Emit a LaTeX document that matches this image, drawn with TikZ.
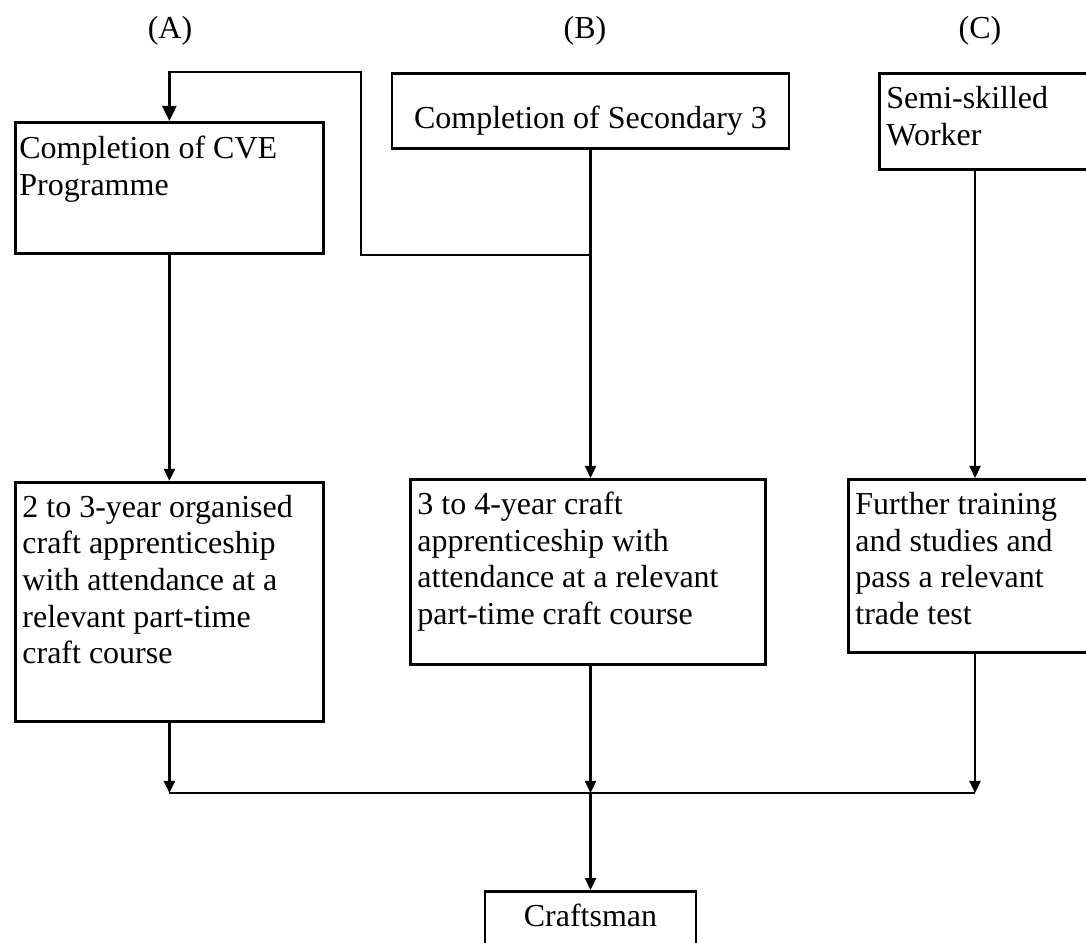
\documentclass[tikz,border=0pt]{standalone}
\usepackage{fontspec}
\setmainfont{Liberation Serif}
\usetikzlibrary{arrows.meta, positioning, calc}

\begin{document}
\begin{tikzpicture}[x=1pt, y=1pt,
  every node/.style={font=\fontsize{32}{36.7}\selectfont},
  stage/.style={draw, line width=2.8pt, inner xsep=7pt, inner ysep=0pt, anchor=north west, align=flush left},
  flow/.style={line width=2.3pt, -{Triangle[length=12pt, width=11pt]}},
  link/.style={line width=2.3pt}]
\clip (0,0) rectangle (1086,942);
  \node (label_a) at (170,911) {(A)};
  \node (label_b) at (585,911) {(B)};
  \node (label_c) at (980,911) {(C)};
\node[stage, inner xsep=4pt, text width=300pt, text height=36pt, text depth=95pt] (cve) at (14,821) {Completion of CVE\\Programme};
\node[stage, anchor=north, align=center, inner xsep=0pt, minimum width=397pt, text height=55pt, text depth=20pt] (sec3) at (590.5,870) {Completion of Secondary 3};
\node[stage, text width=208pt, text height=35pt, text depth=61pt] (worker) at (878,870) {Semi-skilled\\Worker};
\node[stage, text width=294pt, text height=35pt, text depth=204pt, below=226pt of cve] (organised) {2 to 3-year organised\\craft apprenticeship\\with attendance at a\\relevant part-time\\craft course};
\node[stage, text width=341pt, text height=35pt, text depth=150pt] (craft) at (409,464) {3 to 4-year craft\\apprenticeship with\\attendance at a relevant\\part-time craft course};
\node[stage, text width=239pt, text height=35pt, text depth=138pt] (training) at (847,464) {Further training\\and studies and\\pass a relevant\\trade test};
\node[stage, anchor=north, align=center, inner xsep=0pt, minimum width=211pt, text height=35pt, text depth=40pt] (craftsman) at (590.5,52) {Craftsman};
  \coordinate (c_line) at (975,0);
  \coordinate (loop_turn) at (361,0);
  \coordinate (merge) at (0,149);
% column A and the branch from B back to A
\draw[flow] (cve.south) -- (organised.north);
\draw[link, -{Triangle[length=15pt, width=14pt]}] (sec3.south |- cve.south) -- (loop_turn |- cve.south) -- (loop_turn |- sec3.north) -- (cve.north |- sec3.north) -- (cve.north);
% columns B and C
\draw[flow] (sec3.south) -- (sec3.south |- craft.north);
\draw[flow] (c_line |- worker.south) -- (c_line |- training.north);
% into the common line
\draw[flow] (organised.south) -- (organised.south |- merge);
\draw[flow] (sec3.south |- craft.south) -- (sec3.south |- merge);
\draw[flow] (c_line |- training.south) -- (c_line |- merge);
\draw[link] (organised.south |- merge) -- (c_line |- merge);
\draw[flow] (sec3.south |- merge) -- (craftsman.north);
\end{tikzpicture}
\end{document}
